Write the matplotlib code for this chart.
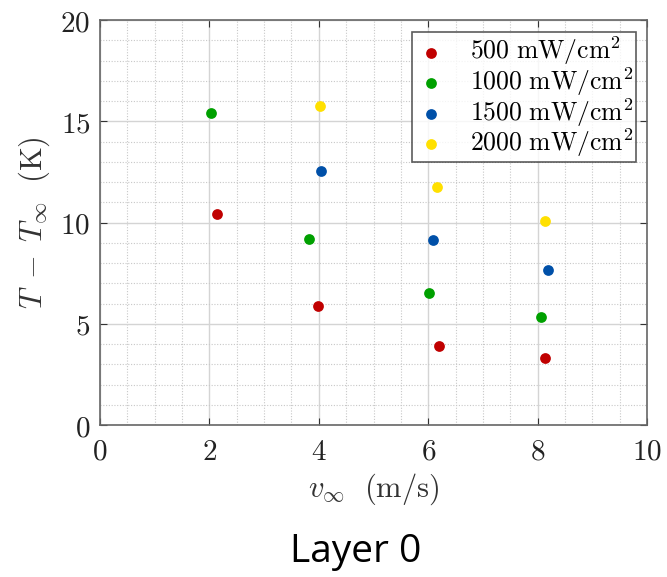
import matplotlib
matplotlib.use("Agg")
import matplotlib.pyplot as plt
from matplotlib.ticker import MultipleLocator, FuncFormatter

plt.rcParams['mathtext.fontset'] = 'cm'

labels = [r'$500\ \mathrm{mW/cm^2}$', r'$1000\ \mathrm{mW/cm^2}$',
          r'$1500\ \mathrm{mW/cm^2}$', r'$2000\ \mathrm{mW/cm^2}$']
colors = ['#C00000', '#00A000', '#0050A8', '#FFE000']

x500 = [2.13, 3.99, 6.19, 8.13]
y500 = [10.42, 5.88, 3.90, 3.31]
x1000 = [2.03, 3.82, 6.01, 8.06]
y1000 = [15.41, 9.19, 6.52, 5.33]
x1500 = [4.04, 6.09, 8.19]
y1500 = [12.54, 9.14, 7.65]
x2000 = [4.02, 6.16, 8.14]
y2000 = [15.75, 11.75, 10.07]

xs = [x500, x1000, x1500, x2000]
ys = [y500, y1000, y1500, y2000]

fig = plt.figure(figsize=(6.67, 5.77), dpi=100)
ax = fig.add_axes([0.150, 0.2634, 0.820, 0.7019])

for x, y, c, l in zip(xs, ys, colors, labels):
    ax.scatter(x, y, s=60, color=c, label=l, zorder=3, linewidths=0)

ax.set_xlim(0, 10)
ax.set_ylim(0, 20)
ax.xaxis.set_major_locator(MultipleLocator(2))
ax.xaxis.set_minor_locator(MultipleLocator(0.5))
ax.yaxis.set_major_locator(MultipleLocator(5))
ax.yaxis.set_minor_locator(MultipleLocator(1))
fmt = FuncFormatter(lambda v, p: r'$%d$' % v)
ax.xaxis.set_major_formatter(fmt)
ax.yaxis.set_major_formatter(fmt)
ax.grid(which='major', color='#D4D4D4', linewidth=1.0, zorder=0)
ax.grid(which='minor', color='#C8C8C8', linewidth=0.8, linestyle=(0, (1, 1.5)), zorder=0)
ax.set_axisbelow(True)
ax.tick_params(which='major', direction='in', length=5, top=True, right=True,
               labelsize=21, color='#333333', labelcolor='#222222')
ax.tick_params(axis='x', which='major', pad=9)
ax.tick_params(axis='y', which='major', pad=7)
ax.tick_params(which='minor', length=0)
for s in ax.spines.values():
    s.set_color('#666666')
    s.set_linewidth(1.2)

ax.set_xlabel(r'$v_\infty\ \ \mathrm{(m/s)}$', fontsize=22, color='#333333', labelpad=4)
ax.set_ylabel(r'$T\;-\;T_\infty\ \ \mathrm{(K)}$', fontsize=22, color='#333333', labelpad=6)

leg = ax.legend(loc='upper right', fontsize=18.5, frameon=True, fancybox=False,
                edgecolor='#333333', handletextpad=0.85, borderpad=0.1,
                labelspacing=-0.08, handlelength=1.3, markerscale=1.0,
                borderaxespad=0, bbox_to_anchor=(0.980, 0.970))
leg.get_frame().set_linewidth(1.2)

fig.text(0.534, 0.026, 'Layer 0', ha='center', va='baseline', fontsize=28,
         family='Open Sans')

fig.savefig('out.png', dpi=100)
